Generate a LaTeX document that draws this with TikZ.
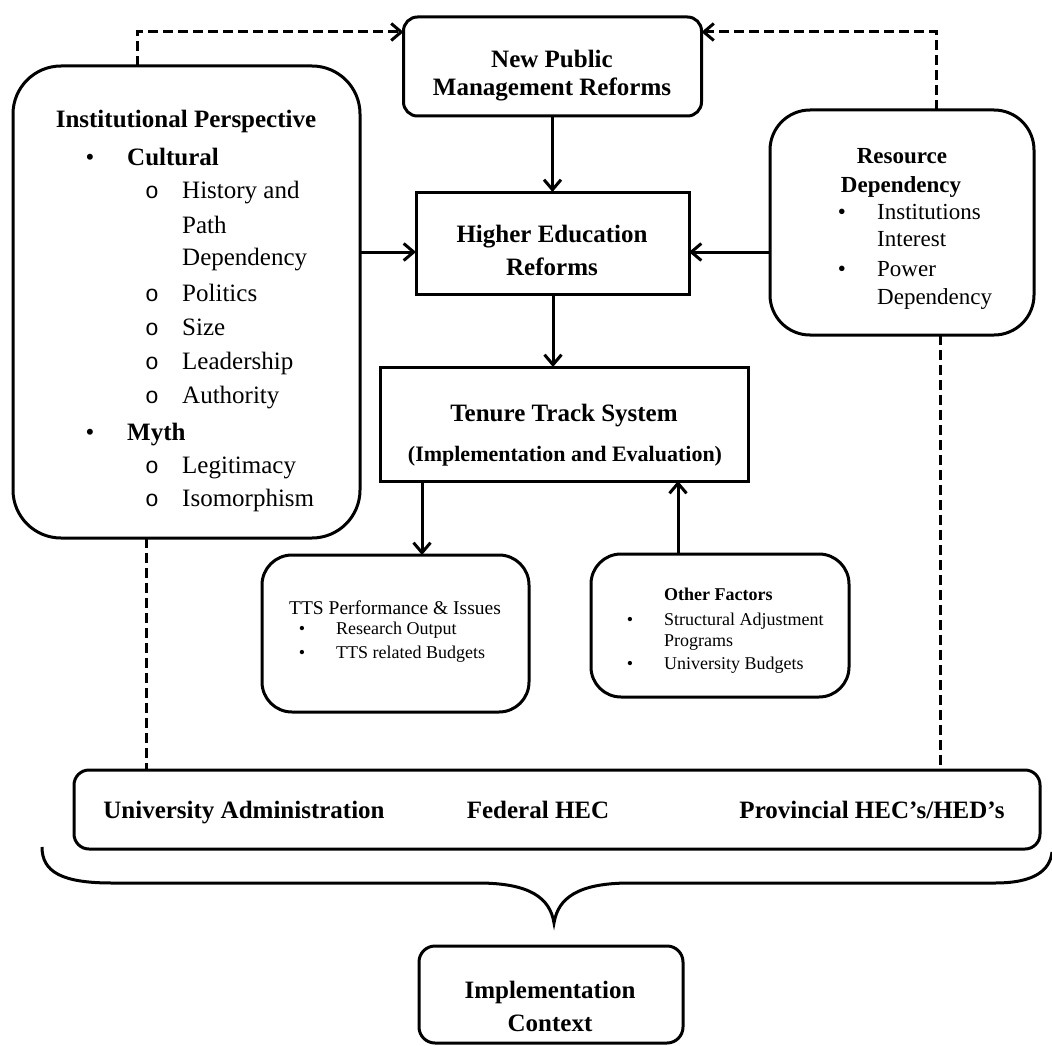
\documentclass[tikz,border=0pt]{standalone}
\usepackage{fontspec}
\setmainfont{Liberation Serif}
\newfontfamily\monofam{Liberation Mono}
\usetikzlibrary{arrows.meta}
\tikzset{
  box/.style={draw, line width=3pt, inner sep=0pt, outer sep=0pt},
  arr/.style={line width=3pt, -{Straight Barb[length=10pt,width=17pt]}},
  dline/.style={line width=3pt, dash pattern=on 10pt off 5pt},
  darr/.style={dline, -{Straight Barb[length=10pt,width=17pt]}},
  ttl/.style={font={\fontsize{25}{28}\selectfont\bfseries}, anchor=base, inner sep=0pt},
  ttll/.style={ttl, anchor=base west},
  itm/.style={font={\fontsize{25}{28}\selectfont}, anchor=base west, inner sep=0pt},
  bul/.style={font={\fontsize{25}{28}\selectfont}, anchor=base, inner sep=0pt},
  obul/.style={font={\fontsize{23}{24}\selectfont\monofam}, anchor=base, inner sep=0pt},
  rttl/.style={font={\fontsize{23}{26}\selectfont\bfseries}, anchor=base, inner sep=0pt},
  ritm/.style={font={\fontsize{23}{26}\selectfont}, anchor=base west, inner sep=0pt},
  rbul/.style={font={\fontsize{23}{26}\selectfont}, anchor=base, inner sep=0pt},
  sttl/.style={font={\fontsize{19.5}{22}\selectfont}, anchor=base, inner sep=0pt},
  sitm/.style={font={\fontsize{18}{20}\selectfont}, anchor=base west, inner sep=0pt},
  sbul/.style={font={\fontsize{18}{20}\selectfont}, anchor=base, inner sep=0pt},
  subttl/.style={font={\fontsize{22}{24}\selectfont\bfseries}, anchor=base, inner sep=0pt},
}
\begin{document}
\begin{tikzpicture}[x=1pt,y=-1pt]
\useasboundingbox (0,0) rectangle (1052,1046);
\fill[white] (0,0) rectangle (1052,1046);

% boxes
\node[box, rounded corners=48pt, minimum width=347pt, minimum height=472pt] (inst) at (186.5,302) {};
\node[box, rounded corners=14pt, minimum width=298pt, minimum height=99pt] (npm) at (552.5,66.5) {};
\node[box, minimum width=273pt, minimum height=102pt] (he) at (552.5,243) {};
\node[box, rounded corners=40pt, minimum width=264pt, minimum height=225pt] (res) at (902,222.5) {};
\node[box, minimum width=368pt, minimum height=114pt] (ten) at (564,424) {};
\node[box, rounded corners=30pt, minimum width=267pt, minimum height=157pt] (tts) at (395.5,633.5) {};
\node[box, rounded corners=30pt, minimum width=258pt, minimum height=143pt] (oth) at (720,625.5) {};
\node[box, rounded corners=15pt, minimum width=966pt, minimum height=79pt] (bot) at (557,809.5) {};
\node[box, rounded corners=16pt, minimum width=264pt, minimum height=97pt] (impl) at (551,994.5) {};

% Institutional text
\node[ttl] (i0) at (186,128) {Institutional Perspective};
\node[bul] (i1b) at (90,165) {•};
\node[ttll] (i1) at (127,165) {Cultural};
\node[obul] (i2b) at (152,198) {o};
\node[itm] (i2) at (182,198) {History and};
\node[itm] (i3) at (182,233) {Path};
\node[itm] (i4) at (182,265) {Dependency};
\node[obul] (i5b) at (152,301) {o};
\node[itm] (i5) at (182,301) {Politics};
\node[obul] (i6b) at (152,335) {o};
\node[itm] (i6) at (182,335) {Size};
\node[obul] (i7b) at (152,369) {o};
\node[itm] (i7) at (182,369) {Leadership};
\node[obul] (i8b) at (152,403) {o};
\node[itm] (i8) at (182,403) {Authority};
\node[bul] (i9b) at (90,440) {•};
\node[ttll] (i9) at (127,440) {Myth};
\node[obul] (i10b) at (152,473) {o};
\node[itm] (i10) at (182,473) {Legitimacy};
\node[obul] (i11b) at (152,506) {o};
\node[itm] (i11) at (182,506) {Isomorphism};

% NPM and HE text
\node[ttl] (n1) at (552,68) {New Public};
\node[ttl] (n2) at (552,96) {Management Reforms};
\node[ttl] (h1) at (552,242) {Higher Education};
\node[ttl] (h2) at (552,275) {Reforms};

% Resource text
\node[rttl] (r1) at (902,164) {Resource};
\node[rttl] (r2) at (901,192) {Dependency};
\node[rbul] (r3b) at (842,219) {•};
\node[ritm] (r3) at (877,219) {Institutions};
\node[ritm] (r4) at (877,246) {Interest};
\node[rbul] (r5b) at (842,276) {•};
\node[ritm] (r5) at (877,276) {Power};
\node[ritm] (r6) at (877,304) {Dependency};

% Tenure text
\node[ttl] (te1) at (564,421) {Tenure Track System};
\node[subttl] (te2) at (565,461) {(Implementation and Evaluation)};

% TTS text
\node[sttl] (s0) at (395,614) {TTS Performance \& Issues};
\node[sbul] (s1b) at (302,634) {•};
\node[sitm] (s1) at (336,634) {Research Output};
\node[sbul] (s2b) at (302,658) {•};
\node[sitm] (s2) at (336,658) {TTS related Budgets};

% Other factors text
\node[sitm, font={\fontsize{18}{20}\selectfont\bfseries}] (o0) at (664,600) {Other Factors};
\node[sbul] (o1b) at (630,625) {•};
\node[sitm] (o1) at (664,625) {Structural Adjustment};
\node[sitm] (o2) at (664,646) {Programs};
\node[sbul] (o3b) at (630,669) {•};
\node[sitm] (o3) at (664,669) {University Budgets};

% bottom text
\node[ttl] (b1) at (244,818) {University Administration};
\node[ttl] (b2) at (538,818) {Federal HEC};
\node[ttl] (b3) at (872,818) {Provincial HEC’s/HED’s};
\node[ttl] (m1) at (550,998) {Implementation};
\node[ttl] (m2) at (550,1031) {Context};

% helper coordinates
\coordinate (xl) at (137,0);
\coordinate (xr) at (936,0);
\coordinate (ytop) at (0,32);
\coordinate (yh) at (0,252);
\coordinate (xa) at (146,0);
\coordinate (xb) at (940,0);
\coordinate (xh) at (553,0);
\coordinate (xt) at (422,0);
\coordinate (xo) at (678,0);

% connectors
\draw[darr] (inst.north -| xl) |- (npm.west |- ytop);
\draw[darr] (res.north -| xr) |- (npm.east |- ytop);
\draw[dline] (inst.south -| xa) -- (bot.north -| xa);
\draw[dline] (res.south -| xb) -- (bot.north -| xb);
\draw[arr] (npm.south) -- (he.north);
\draw[arr] (inst.east |- yh) -- (he.west |- yh);
\draw[arr] (res.west |- yh) -- (he.east |- yh);
\draw[arr] (he.south -| xh) -- (ten.north -| xh);
\draw[arr] (ten.south -| xt) -- (tts.north -| xt);
\draw[arr] (oth.north -| xo) -- (ten.south -| xo);

% brace
\draw[line width=3pt] (42,847) .. controls (42,872) and (62,883) .. (112,883)
  -- (478,883) .. controls (530,883) and (550,898) .. (554,923)
  .. controls (558,898) and (578,883) .. (630,883)
  -- (995,883) .. controls (1035,883) and (1050,870) .. (1052,852);
\end{tikzpicture}
\end{document}
